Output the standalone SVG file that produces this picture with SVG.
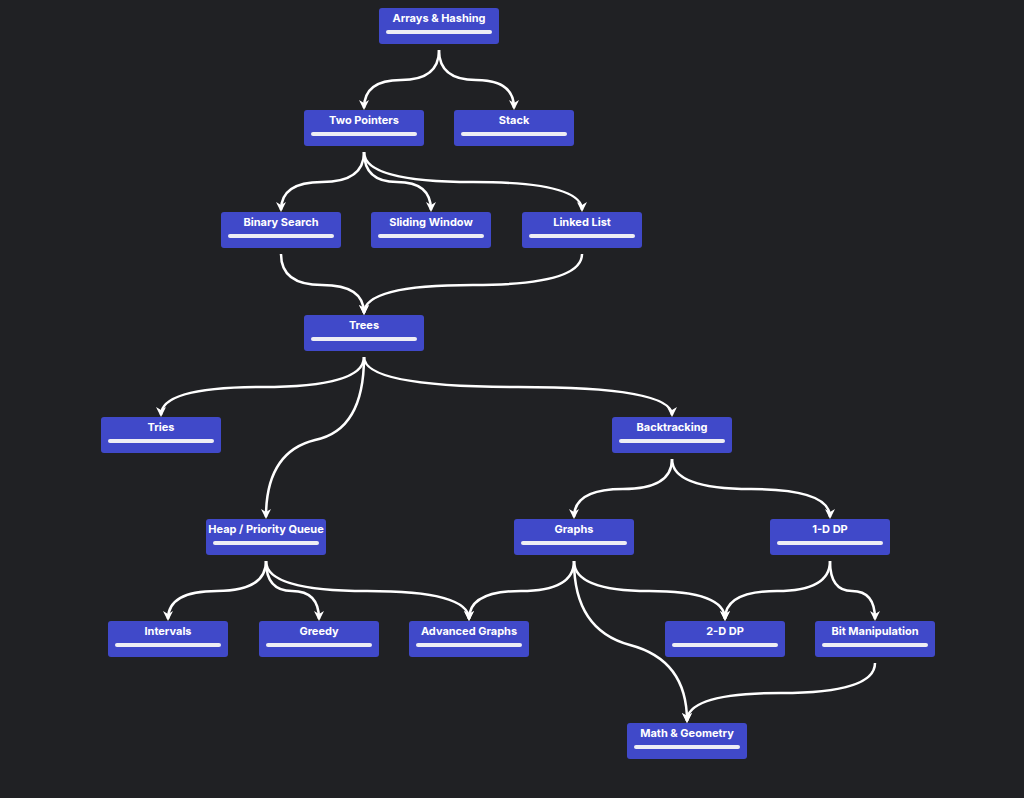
<svg xmlns="http://www.w3.org/2000/svg" width="1024" height="798" viewBox="0 0 1024 798">
<defs>
<style>
.n rect.b{fill:#4049c9;}
.n rect.p{fill:#eeeef4;}
.n text{font-family:Inter,"Liberation Sans",sans-serif;font-size:11px;font-weight:bold;fill:#fff;text-anchor:middle;}
.e path{fill:none;stroke:#fff;stroke-width:2.5;marker-end:url(#a);}
</style>
<marker id="a" viewBox="0 0 10 10" refX="8" refY="5" markerWidth="4" markerHeight="4" orient="auto" markerUnits="strokeWidth">
<path d="M0,0 L10,5 L0,10 L3,5 Z" fill="#fff"/>
</marker>
</defs>
<rect width="1024" height="798" fill="#202124"/>
<g class="e">
<path d="M439 50 Q439 80 401 80 Q364 80 364 108"/>
<path d="M439 50 Q439 80 476 80 Q514 80 514 108"/>
<path d="M364 152 Q364 182 322 182 Q281 182 281 210"/>
<path d="M364 152 Q364 182 397 182 Q431 182 431 210"/>
<path d="M364 152 Q364 182 473 182 Q582 182 582 210"/>
<path d="M281 254 Q281 285 322 285 Q364 285 364 313"/>
<path d="M582 254 Q582 285 473 285 Q364 285 364 313"/>
<path d="M364 357 Q364 387 262 387 Q161 387 161 415"/>
<path d="M364 357 Q364 387 518 387 Q672 387 672 415"/>
<path d="M364 357 Q364 430 315 440 Q266 452 266 517"/>
<path d="M672 459 Q672 489 623 489 Q574 489 574 517"/>
<path d="M672 459 Q672 489 751 489 Q830 489 830 517"/>
<path d="M266 561 Q266 591 217 591 Q168 591 168 619"/>
<path d="M266 561 Q266 591 292 591 Q319 591 319 619"/>
<path d="M266 561 Q266 591 367 591 Q469 591 469 619"/>
<path d="M574 561 Q574 591 521 591 Q469 591 469 619"/>
<path d="M574 561 Q574 591 649 591 Q725 591 725 619"/>
<path d="M574 561 Q574 630 630 645 Q687 660 687 721"/>
<path d="M830 561 Q830 591 777 591 Q725 591 725 619"/>
<path d="M830 561 Q830 591 852 591 Q875 591 875 619"/>
<path d="M875 663 Q875 693 781 693 Q687 693 687 721"/>
</g>
<g id="arrays" class="n" transform="translate(379,8)"><rect class="b" width="120" height="36" rx="3"/><text x="60" y="14">Arrays &amp; Hashing</text><rect class="p" x="7" y="22" width="106" height="4" rx="2"/></g>
<g id="twopointers" class="n" transform="translate(304,110)"><rect class="b" width="120" height="36" rx="3"/><text x="60" y="14">Two Pointers</text><rect class="p" x="7" y="22" width="106" height="4" rx="2"/></g>
<g id="stack" class="n" transform="translate(454,110)"><rect class="b" width="120" height="36" rx="3"/><text x="60" y="14">Stack</text><rect class="p" x="7" y="22" width="106" height="4" rx="2"/></g>
<g id="binarysearch" class="n" transform="translate(221,212)"><rect class="b" width="120" height="36" rx="3"/><text x="60" y="14">Binary Search</text><rect class="p" x="7" y="22" width="106" height="4" rx="2"/></g>
<g id="slidingwindow" class="n" transform="translate(371,212)"><rect class="b" width="120" height="36" rx="3"/><text x="60" y="14">Sliding Window</text><rect class="p" x="7" y="22" width="106" height="4" rx="2"/></g>
<g id="linkedlist" class="n" transform="translate(522,212)"><rect class="b" width="120" height="36" rx="3"/><text x="60" y="14">Linked List</text><rect class="p" x="7" y="22" width="106" height="4" rx="2"/></g>
<g id="trees" class="n" transform="translate(304,315)"><rect class="b" width="120" height="36" rx="3"/><text x="60" y="14">Trees</text><rect class="p" x="7" y="22" width="106" height="4" rx="2"/></g>
<g id="tries" class="n" transform="translate(101,417)"><rect class="b" width="120" height="36" rx="3"/><text x="60" y="14">Tries</text><rect class="p" x="7" y="22" width="106" height="4" rx="2"/></g>
<g id="backtracking" class="n" transform="translate(612,417)"><rect class="b" width="120" height="36" rx="3"/><text x="60" y="14">Backtracking</text><rect class="p" x="7" y="22" width="106" height="4" rx="2"/></g>
<g id="heap" class="n" transform="translate(206,519)"><rect class="b" width="120" height="36" rx="3"/><text x="60" y="14">Heap / Priority Queue</text><rect class="p" x="7" y="22" width="106" height="4" rx="2"/></g>
<g id="graphs" class="n" transform="translate(514,519)"><rect class="b" width="120" height="36" rx="3"/><text x="60" y="14">Graphs</text><rect class="p" x="7" y="22" width="106" height="4" rx="2"/></g>
<g id="dp1" class="n" transform="translate(770,519)"><rect class="b" width="120" height="36" rx="3"/><text x="60" y="14">1-D DP</text><rect class="p" x="7" y="22" width="106" height="4" rx="2"/></g>
<g id="intervals" class="n" transform="translate(108,621)"><rect class="b" width="120" height="36" rx="3"/><text x="60" y="14">Intervals</text><rect class="p" x="7" y="22" width="106" height="4" rx="2"/></g>
<g id="greedy" class="n" transform="translate(259,621)"><rect class="b" width="120" height="36" rx="3"/><text x="60" y="14">Greedy</text><rect class="p" x="7" y="22" width="106" height="4" rx="2"/></g>
<g id="advgraphs" class="n" transform="translate(409,621)"><rect class="b" width="120" height="36" rx="3"/><text x="60" y="14">Advanced Graphs</text><rect class="p" x="7" y="22" width="106" height="4" rx="2"/></g>
<g id="dp2" class="n" transform="translate(665,621)"><rect class="b" width="120" height="36" rx="3"/><text x="60" y="14">2-D DP</text><rect class="p" x="7" y="22" width="106" height="4" rx="2"/></g>
<g id="bitmanip" class="n" transform="translate(815,621)"><rect class="b" width="120" height="36" rx="3"/><text x="60" y="14">Bit Manipulation</text><rect class="p" x="7" y="22" width="106" height="4" rx="2"/></g>
<g id="math" class="n" transform="translate(627,723)"><rect class="b" width="120" height="36" rx="3"/><text x="60" y="14">Math &amp; Geometry</text><rect class="p" x="7" y="22" width="106" height="4" rx="2"/></g>
</svg>
